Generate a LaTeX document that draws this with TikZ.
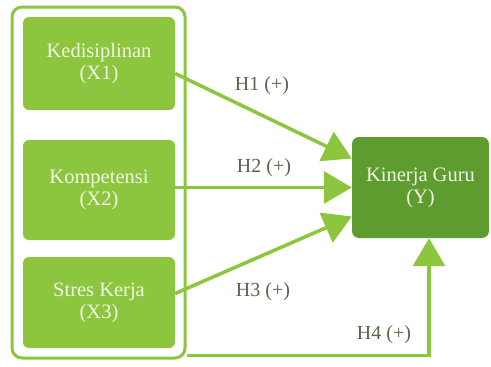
\documentclass[tikz,border=0pt]{standalone}
\usepackage{fontspec}
\setmainfont{Liberation Serif}
\usetikzlibrary{arrows.meta,positioning}
\definecolor{lgreen}{HTML}{8CC63E}
\definecolor{dgreen}{HTML}{5F9C2F}
\definecolor{ltext}{HTML}{F2F6E4}
\definecolor{lbl}{HTML}{56664A}
\tikzset{
  xbox/.style={draw=none,fill=lgreen,rounded corners=6pt,minimum width=152pt,align=center,text=ltext,font=\fontsize{20.5}{22}\selectfont},
  ybox/.style={draw=none,fill=dgreen,rounded corners=7pt,minimum width=137pt,minimum height=101pt,align=center,text=ltext,font=\fontsize{20.5}{22}\selectfont},
  frame/.style={draw=lgreen,line width=3pt,rounded corners=10pt},
  arr/.style={draw=lgreen,line width=3.5pt,-{Triangle[length=28pt,width=32pt]}},
  hlabel/.style={text=lbl,font=\fontsize{20}{22}\selectfont}
}
\begin{document}
\begin{tikzpicture}[x=1pt,y=-1pt]
\useasboundingbox (0,0) rectangle (491,367);
\node[frame,minimum width=173pt,minimum height=351pt] (outer) at (98.5,182.5) {};
\node[xbox,minimum height=93pt] (x1) at (99,63.5) {Kedisiplinan\\(X1)};
\node[xbox,minimum height=100pt] (x2) at (99,190) {Kompetensi\\(X2)};
\node[xbox,minimum height=91pt] (x3) at (99,302.5) {Stres Kerja\\(X3)};
\node[ybox] (y) at (420.5,187.5) {Kinerja Guru\\(Y)};
\draw[arr] ([yshift=-10pt]x1.east) -- ([yshift=29pt]y.west);
\draw[arr] ([yshift=2.5pt]x2.east) -- (y.west);
\draw[arr] ([yshift=9pt]x3.east) -- ([yshift=-29pt]y.west);
\draw[arr] ([yshift=4pt]outer.south east) -| ([xshift=8.5pt]y.south);
\node[hlabel] (l1) at (262,86) {H1 (+)};
\node[hlabel] (l2) at (264,168) {H2 (+)};
\node[hlabel] (l3) at (263,292) {H3 (+)};
\node[hlabel] (l4) at (384,335) {H4 (+)};
\end{tikzpicture}
\end{document}
